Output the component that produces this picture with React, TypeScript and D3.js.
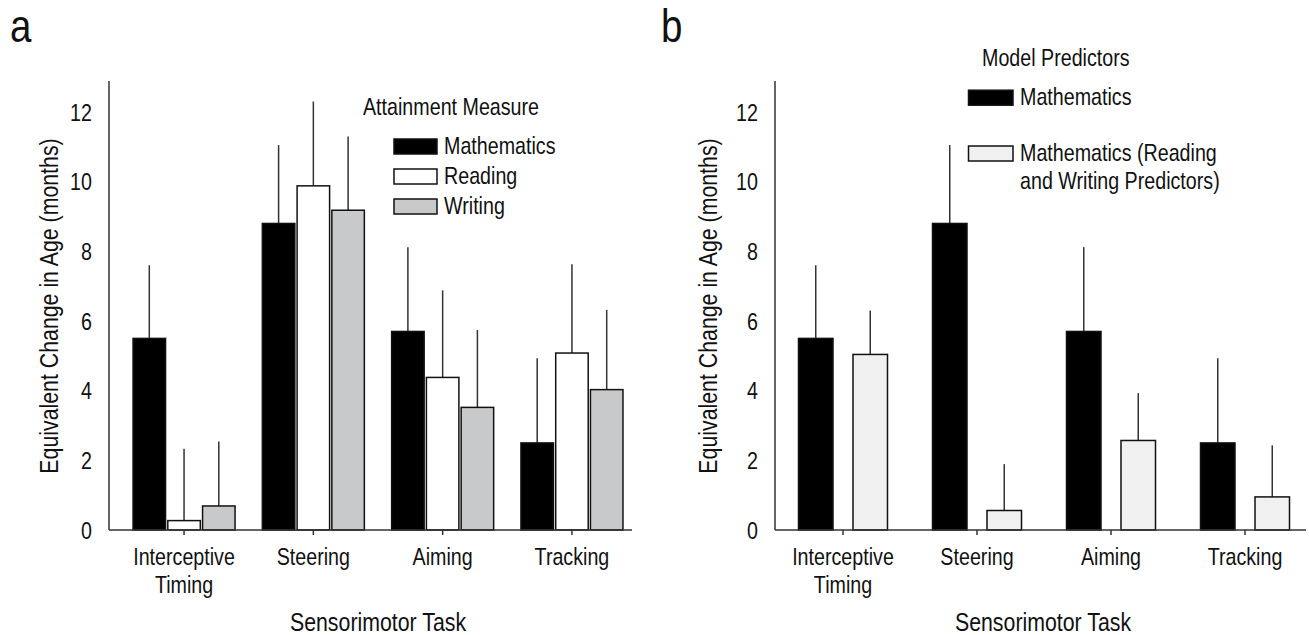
import React, { useRef, useEffect } from 'react';
import * as d3 from 'd3';

// chart data
const tasks = ['Interceptive Timing', 'Steering', 'Aiming', 'Tracking'];
const taskLines = [['Interceptive', 'Timing'], ['Steering'], ['Aiming'], ['Tracking']];
const yTicks = [0, 2, 4, 6, 8, 10, 12];

const mathValues = [5.5, 8.8, 5.7, 2.5];
const mathErr = [2.1, 2.25, 2.42, 2.43];
const readingValues = [0.27, 9.88, 4.38, 5.08];
const readingErr = [2.06, 2.42, 2.5, 2.55];
const writingValues = [0.69, 9.18, 3.52, 4.03];
const writingErr = [1.85, 2.12, 2.22, 2.29];
const mathRWValues = [5.04, 0.56, 2.57, 0.95];
const mathRWErr = [1.26, 1.33, 1.36, 1.48];

const seriesA = [
  { name: 'Mathematics', values: mathValues, err: mathErr, fill: '#000000' },
  { name: 'Reading', values: readingValues, err: readingErr, fill: '#ffffff' },
  { name: 'Writing', values: writingValues, err: writingErr, fill: '#c8c9cb' },
];
const seriesB = [
  { name: 'Mathematics', values: mathValues, err: mathErr, fill: '#000000' },
  { name: 'Mathematics (Reading|and Writing Predictors)', values: mathRWValues, err: mathRWErr, fill: '#f0f0f0' },
];

const FONT = "'Liberation Sans', Arial, sans-serif";
const SX = 0.82; // horizontal squeeze to mimic the condensed face of the original

const App = () => {
  const svgRef = useRef<SVGSVGElement>(null);

  useEffect(() => {
    const svg = d3.select(svgRef.current);
    svg.selectAll('*').remove();

    const y = d3.scaleLinear().domain([0, 12]).range([530, 112]);

    // condensed text helper
    const label = (g, x: number, yy: number, txt: string | number, size: number, anchor = 'start', rot = 0) =>
      g.append('text')
        .attr('transform', `translate(${x},${yy})${rot ? ` rotate(${rot})` : ''} scale(${SX},1)`)
        .attr('text-anchor', anchor)
        .style('font-size', `${size}px`)
        .text(txt);

    const panels = [
      {
        letter: 'a', letterX: 10, series: seriesA,
        axisX: 109, axisEnd: 632, band: [119.4, 636.6], inner: [-51, 51], innerPad: 0.065,
        yTitleX: 58, xTitleX: 378,
        legendTitle: 'Attainment Measure', legendTitleX: 363, legendTitleY: 115,
        swX: 394, swW: 43, swTops: [139, 169, 199], labelX: 444,
      },
      {
        letter: 'b', letterX: 661, series: seriesB,
        axisX: 775, axisEnd: 1306, band: [776, 1312], inner: [-44.5, 44.5], innerPad: 0.367,
        yTitleX: 717, xTitleX: 1043,
        legendTitle: 'Model Predictors', legendTitleX: 982, legendTitleY: 65.5,
        swX: 968.5, swW: 44.5, swTops: [90.2, 146], labelX: 1020,
      },
    ];

    panels.forEach(p => {
      const g = svg.append('g');
      const x = d3.scaleBand().domain(tasks).range(p.band as [number, number]).padding(0);
      const xi = d3.scaleBand()
        .domain(p.series.map(s => s.name))
        .range(p.inner as [number, number])
        .paddingInner(p.innerPad)
        .paddingOuter(0);
      const cx = (t: string) => (x(t) as number) + x.bandwidth() / 2;

      // panel letter
      label(g, p.letterX, 42, p.letter, 47);

      // bars with upper error whiskers
      p.series.forEach(s => {
        tasks.forEach((t, i) => {
          const bx = cx(t) + (xi(s.name) as number);
          const v = s.values[i];
          g.append('line')
            .attr('x1', bx + xi.bandwidth() / 2).attr('x2', bx + xi.bandwidth() / 2)
            .attr('y1', y(v)).attr('y2', y(v + s.err[i]))
            .attr('stroke', '#333').attr('stroke-width', 1.5);
          g.append('rect')
            .attr('x', bx).attr('y', y(v))
            .attr('width', xi.bandwidth()).attr('height', y(0) - y(v))
            .attr('fill', s.fill).attr('stroke', '#111').attr('stroke-width', 1.5);
        });
      });

      // axes
      g.append('line')
        .attr('x1', p.axisX).attr('x2', p.axisX)
        .attr('y1', 81).attr('y2', y(0))
        .attr('stroke', '#333').attr('stroke-width', 1.5);
      g.append('line')
        .attr('x1', p.axisX).attr('x2', p.axisEnd)
        .attr('y1', y(0)).attr('y2', y(0))
        .attr('stroke', '#333').attr('stroke-width', 1.5);

      // y tick labels (no tick marks)
      yTicks.forEach(d => {
        label(g, p.axisX - 17, y(d) + 8.5, d, 24, 'end');
      });

      // x ticks + category labels
      tasks.forEach((t, i) => {
        g.append('line')
          .attr('x1', cx(t)).attr('x2', cx(t))
          .attr('y1', y(0)).attr('y2', y(0) + 5)
          .attr('stroke', '#333').attr('stroke-width', 1.5);
        taskLines[i].forEach((ln, j) => {
          label(g, cx(t), 565 + j * 28, ln, 24, 'middle');
        });
      });

      // axis titles
      label(g, p.yTitleX, 306, 'Equivalent Change in Age (months)', 26, 'middle', -90);
      label(g, p.xTitleX, 631, 'Sensorimotor Task', 26, 'middle');

      // legend
      label(g, p.legendTitleX, p.legendTitleY, p.legendTitle, 24);
      p.series.forEach((s, i) => {
        const top = p.swTops[i];
        g.append('rect')
          .attr('x', p.swX).attr('y', top)
          .attr('width', p.swW).attr('height', 15)
          .attr('fill', s.fill).attr('stroke', '#111').attr('stroke-width', 1.5);
        s.name.split('|').forEach((ln, j) => {
          label(g, p.labelX, top + 14.5 + j * 28, ln, 24);
        });
      });
    });
  }, []);

  return (
    <svg
      ref={svgRef}
      width={1309}
      height={635}
      style={{ position: 'absolute', left: 0, top: 0, background: '#fff', fontFamily: FONT, fill: '#111' }}
    />
  );
};

export default App;
